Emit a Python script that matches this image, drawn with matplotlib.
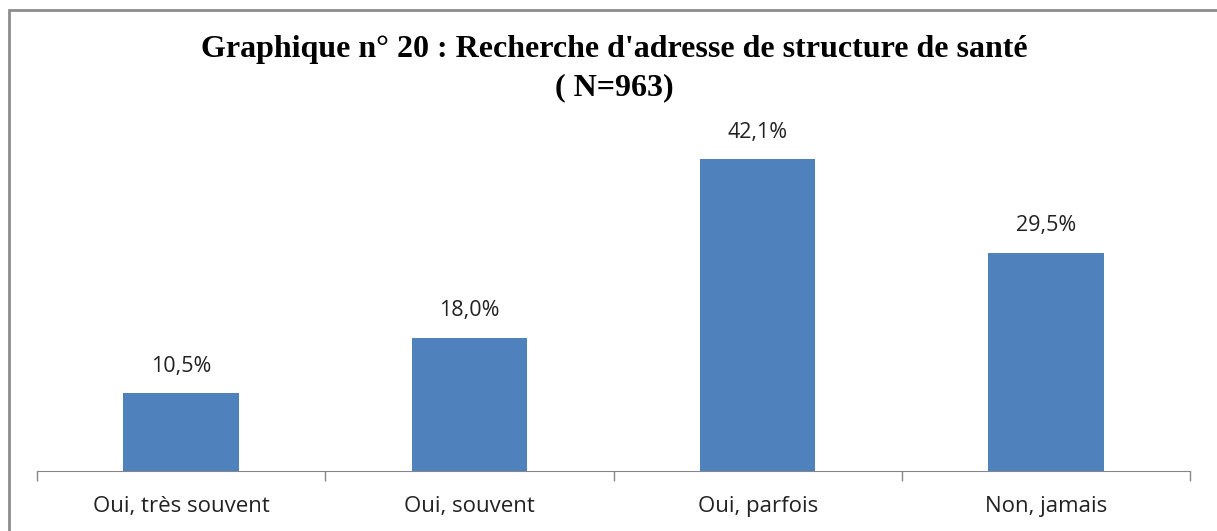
import matplotlib.pyplot as plt
from matplotlib.patches import Rectangle

categories = ["Oui, très souvent", "Oui, souvent", "Oui, parfois", "Non, jamais"]
values = [10.5, 18.0, 42.1, 29.5]
value_labels = ["10,5%", "18,0%", "42,1%", "29,5%"]

fig = plt.figure(figsize=(12.17, 5.31), dpi=100)
ax = fig.add_axes([37 / 1217, 60 / 531, 1153 / 1217, 333 / 531])

x = range(len(categories))
ax.bar(x, values, width=0.4, color="#4F81BD")
for xi, v, lab in zip(x, values, value_labels):
    ax.annotate(lab, (xi, v), xytext=(0, 12), textcoords="offset points",
                ha="center", va="bottom", fontsize=15.5, family="Open Sans",
                color="#222222")

ax.set_xlim(-0.5, len(categories) - 0.5)
ax.set_ylim(0, 45)
ax.set_xticks(list(x))
ax.set_xticklabels(categories, fontsize=16, family="Open Sans", color="#222222")
ax.tick_params(axis="x", which="major", length=0, pad=18)
ax.set_xticks([i - 0.5 for i in range(len(categories) + 1)], minor=True)
ax.tick_params(axis="x", which="minor", length=7, color="#868686", width=1)
ax.set_yticks([])
for s in ["top", "right", "left"]:
    ax.spines[s].set_visible(False)
ax.spines["bottom"].set_color("#868686")

fig.text(614 / 1217, 1 - 49 / 531, "Graphique n° 20 : Recherche d'adresse de structure de santé",
         ha="center", va="center", fontsize=23, fontweight="bold", family="Liberation Serif")
fig.text(614 / 1217, 1 - 88 / 531, "( N=963)",
         ha="center", va="center", fontsize=23, fontweight="bold", family="Liberation Serif")

fig.add_artist(Rectangle((9 / 1217, -0.1), 2, 1 - 10 / 531 + 0.1, transform=fig.transFigure,
                         fill=False, edgecolor="#8c8c8c", lw=2))

fig.savefig("out.png", dpi=100)
